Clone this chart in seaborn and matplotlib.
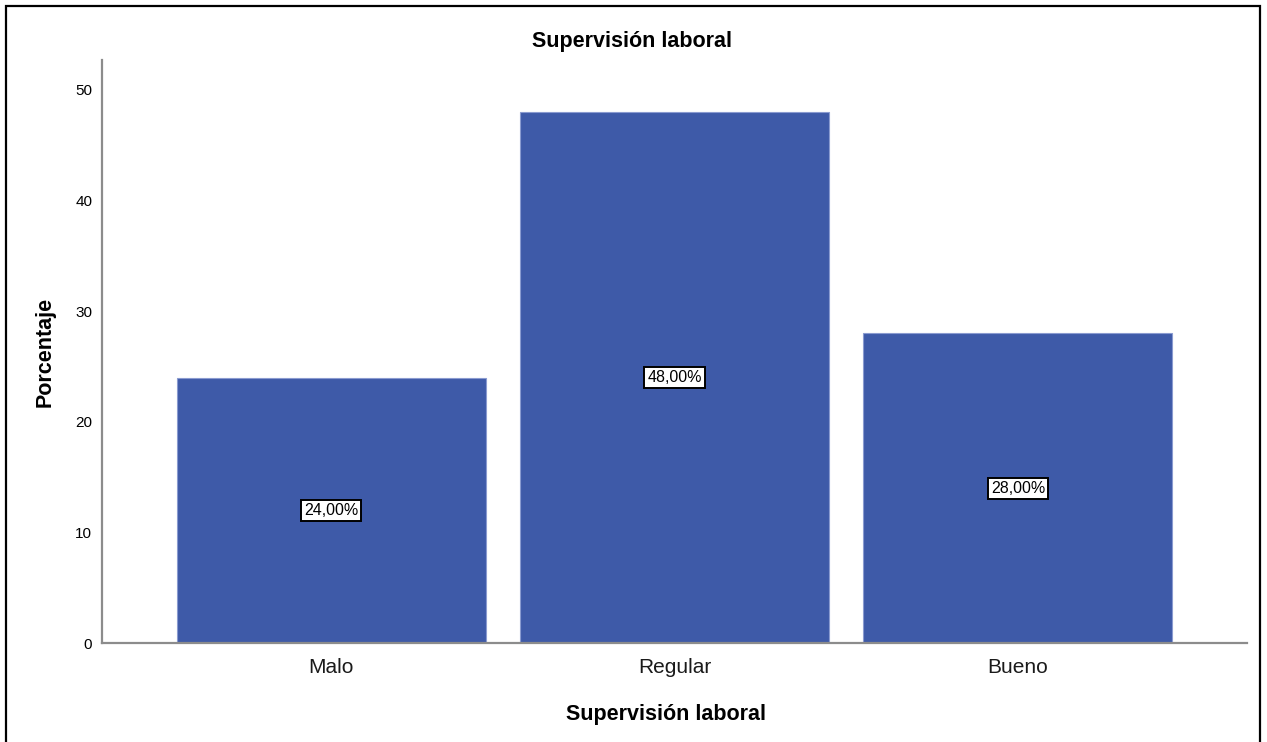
import matplotlib
matplotlib.use("Agg")
import matplotlib.pyplot as plt
from matplotlib.patches import Rectangle
import seaborn as sns
import pandas as pd

# Frequency table: share of respondents per rating
categories = ["Malo", "Regular", "Bueno"]
percentages = [24.0, 48.0, 28.0]
yticks = [0, 10, 20, 30, 40, 50]

title = "Supervisión laboral"
xlabel = "Supervisión laboral"
ylabel = "Porcentaje"

sns.set_style("white")
plt.rcParams["font.family"] = ["Liberation Sans", "DejaVu Sans"]
plt.rcParams["text.color"] = "black"
plt.rcParams["axes.labelcolor"] = "black"

df = pd.DataFrame({"categoria": categories, "porcentaje": percentages})

fig = plt.figure(figsize=(12.67, 7.42), dpi=100)
ax = fig.add_axes([0.0805, 0.1334, 0.9037, 0.7857])

bar_color = "#3E5AA8"
sns.barplot(data=df, x="categoria", y="porcentaje", order=categories,
            color=bar_color, saturation=1, width=0.9,
            edgecolor="#8A9BD0", linewidth=0.8, ax=ax)

ax.set_xlim(-0.667, 2.667)
ax.set_ylim(0, 52.7)
ax.set_yticks(yticks)
ax.set_yticklabels([str(t) for t in yticks], fontsize=11)
ax.tick_params(axis="y", length=0, pad=7, colors="black")
ax.tick_params(axis="x", length=0, pad=11, labelsize=15, colors="#1a1a1a")

for side in ("top", "right"):
    ax.spines[side].set_visible(False)
for side in ("left", "bottom"):
    ax.spines[side].set_color("#8C8C8C")
    ax.spines[side].set_linewidth(1.6)

# Value labels at the middle of each bar, in a white box
for i, v in enumerate(percentages):
    txt = f"{v:.2f}".replace(".", ",") + "%"
    ax.text(i, v / 2, txt, ha="center", va="center", fontsize=11.5,
            color="black",
            bbox=dict(boxstyle="square,pad=0.18", facecolor="white",
                      edgecolor="black", linewidth=1.4))

ax.set_xlabel(xlabel, fontsize=15.5, fontweight="bold", color="black")
ax.set_ylabel(ylabel, fontsize=15.5, fontweight="bold", color="black")
ax.xaxis.set_label_coords(0.4926, -0.122)
ax.yaxis.set_label_coords(-0.0498, 0.5)
ax.xaxis.label.set_va("center")
ax.yaxis.label.set_va("center")

fig.text(632 / 1267, 1 - 42 / 742, title, ha="center", va="center",
         fontsize=15.5, fontweight="bold", color="black")

# Outer frame around the chart
fig.patches.append(Rectangle((6 / 1267, -0.02), 1254 / 1267, 1.02 - 6 / 742,
                             transform=fig.transFigure, fill=False,
                             edgecolor="black", linewidth=1.6))

fig.savefig("out.png", dpi=100)
